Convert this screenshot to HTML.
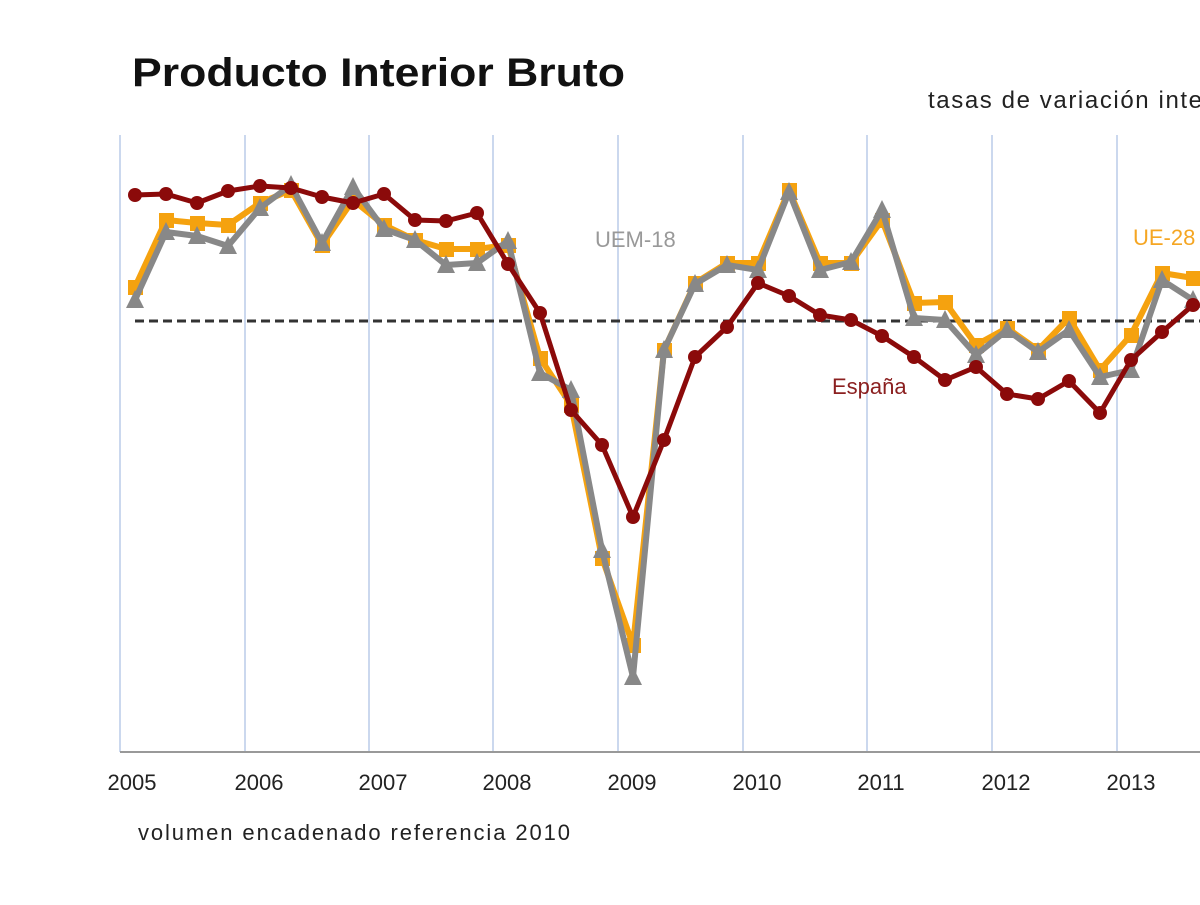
<!DOCTYPE html>
<html><head><meta charset="utf-8"><style>
body{margin:0;width:1200px;height:900px;background:#fff;overflow:hidden;font-family:"Liberation Sans",sans-serif}
</style></head><body>
<svg width="1200" height="900" xmlns="http://www.w3.org/2000/svg" font-family="Liberation Sans, sans-serif">
<text x="132" y="86" font-size="40" font-weight="bold" fill="#111" textLength="493" lengthAdjust="spacingAndGlyphs">Producto Interior Bruto</text>
<text x="928" y="108" font-size="24" fill="#222" letter-spacing="1.6">tasas de variación interanual</text>
<g stroke="#cbd8ee" stroke-width="2">
<line x1="120" y1="135" x2="120" y2="752"/><line x1="245" y1="135" x2="245" y2="752"/><line x1="369" y1="135" x2="369" y2="752"/><line x1="493" y1="135" x2="493" y2="752"/><line x1="618" y1="135" x2="618" y2="752"/><line x1="743" y1="135" x2="743" y2="752"/><line x1="867" y1="135" x2="867" y2="752"/><line x1="992" y1="135" x2="992" y2="752"/><line x1="1117" y1="135" x2="1117" y2="752"/>
</g>
<line x1="120" y1="752" x2="1200" y2="752" stroke="#999" stroke-width="2"/>
<line x1="135" y1="321" x2="1200" y2="321" stroke="#333" stroke-width="3" stroke-dasharray="9,5"/>
<g font-size="22" fill="#222" text-anchor="middle">
<text x="132" y="790">2005</text><text x="259" y="790">2006</text><text x="383" y="790">2007</text><text x="507" y="790">2008</text><text x="632" y="790">2009</text><text x="757" y="790">2010</text><text x="881" y="790">2011</text><text x="1006" y="790">2012</text><text x="1131" y="790">2013</text>
</g>
<text x="138" y="840" font-size="22" fill="#222" textLength="432" lengthAdjust="spacing">volumen encadenado referencia 2010</text>
<text x="595" y="247" font-size="22" fill="#999">UEM-18</text>
<text x="832" y="394" font-size="22" fill="#8b2020">España</text>
<text x="1133" y="245" font-size="22" fill="#f5a623">UE-28</text>
<polyline fill="none" stroke="#f5a20f" stroke-width="6" stroke-linejoin="round" points="135,287 166,220 197,223 228,225 260,203 291,190 322,245 353,200 384,225 415,240 446,249 477,249 508,245 540,358 571,405 602,558 633,645 664,350 695,283 727,263 758,263 789,190 820,263 851,263 882,220 914,303 945,302 976,345 1007,328 1038,350 1069,318 1100,370 1131,335 1162,273 1193,278"/>
<g fill="#f5a20f">
<rect x="128" y="280" width="15" height="15"/><rect x="159" y="213" width="15" height="15"/><rect x="190" y="216" width="15" height="15"/><rect x="221" y="218" width="15" height="15"/><rect x="253" y="196" width="15" height="15"/><rect x="284" y="183" width="15" height="15"/><rect x="315" y="238" width="15" height="15"/><rect x="346" y="193" width="15" height="15"/><rect x="377" y="218" width="15" height="15"/><rect x="408" y="233" width="15" height="15"/><rect x="439" y="242" width="15" height="15"/><rect x="470" y="242" width="15" height="15"/><rect x="501" y="238" width="15" height="15"/><rect x="533" y="351" width="15" height="15"/><rect x="564" y="398" width="15" height="15"/><rect x="595" y="551" width="15" height="15"/><rect x="626" y="638" width="15" height="15"/><rect x="657" y="343" width="15" height="15"/><rect x="688" y="276" width="15" height="15"/><rect x="720" y="256" width="15" height="15"/><rect x="751" y="256" width="15" height="15"/><rect x="782" y="183" width="15" height="15"/><rect x="813" y="256" width="15" height="15"/><rect x="844" y="256" width="15" height="15"/><rect x="875" y="213" width="15" height="15"/><rect x="907" y="296" width="15" height="15"/><rect x="938" y="295" width="15" height="15"/><rect x="969" y="338" width="15" height="15"/><rect x="1000" y="321" width="15" height="15"/><rect x="1031" y="343" width="15" height="15"/><rect x="1062" y="311" width="15" height="15"/><rect x="1093" y="363" width="15" height="15"/><rect x="1124" y="328" width="15" height="15"/><rect x="1155" y="266" width="15" height="15"/><rect x="1186" y="271" width="15" height="15"/>
</g>
<polyline fill="none" stroke="#888" stroke-width="6" stroke-linejoin="round" points="135,300 166,232 197,236 228,246 260,208 291,185 322,243 353,187 384,229 415,240 446,265 477,263 508,241 540,373 571,390 602,550 633,677 664,350 695,284 727,265 758,270 789,192 820,270 851,262 882,210 914,318 945,320 976,355 1007,330 1038,352 1069,330 1100,377 1131,370 1162,280 1193,300"/>
<g fill="#888" id="tri"></g>
<polyline fill="none" stroke="#8b0a0a" stroke-width="5" stroke-linejoin="round" points="135,195 166,194 197,203 228,191 260,186 291,188 322,197 353,203 384,194 415,220 446,221 477,213 508,264 540,313 571,410 602,445 633,517 664,440 695,357 727,327 758,283 789,296 820,315 851,320 882,336 914,357 945,380 976,367 1007,394 1038,399 1069,381 1100,413 1131,360 1162,332 1193,305"/>
<g fill="#8b0a0a" id="dots"></g>
<script>
var g=[[135,300],[166,232],[197,236],[228,246],[260,208],[291,185],[322,243],[353,187],[384,229],[415,240],[446,265],[477,263],[508,241],[540,373],[571,390],[602,550],[633,677],[664,350],[695,284],[727,265],[758,270],[789,192],[820,270],[851,262],[882,210],[914,318],[945,320],[976,355],[1007,330],[1038,352],[1069,330],[1100,377],[1131,370],[1162,280],[1193,300]];
var r=[[135,195],[166,194],[197,203],[228,191],[260,186],[291,188],[322,197],[353,203],[384,194],[415,220],[446,221],[477,213],[508,264],[540,313],[571,410],[602,445],[633,517],[664,440],[695,357],[727,327],[758,283],[789,296],[820,315],[851,320],[882,336],[914,357],[945,380],[976,367],[1007,394],[1038,399],[1069,381],[1100,413],[1131,360],[1162,332],[1193,305]];
var ns="http://www.w3.org/2000/svg",t=document.getElementById("tri"),d=document.getElementById("dots");
g.forEach(function(p){var e=document.createElementNS(ns,"polygon");e.setAttribute("points",(p[0]-9)+","+(p[1]+8)+" "+(p[0]+9)+","+(p[1]+8)+" "+p[0]+","+(p[1]-10));t.appendChild(e);});
r.forEach(function(p){var e=document.createElementNS(ns,"circle");e.setAttribute("cx",p[0]);e.setAttribute("cy",p[1]);e.setAttribute("r",7);d.appendChild(e);});
</script>
</svg>
</body></html>
